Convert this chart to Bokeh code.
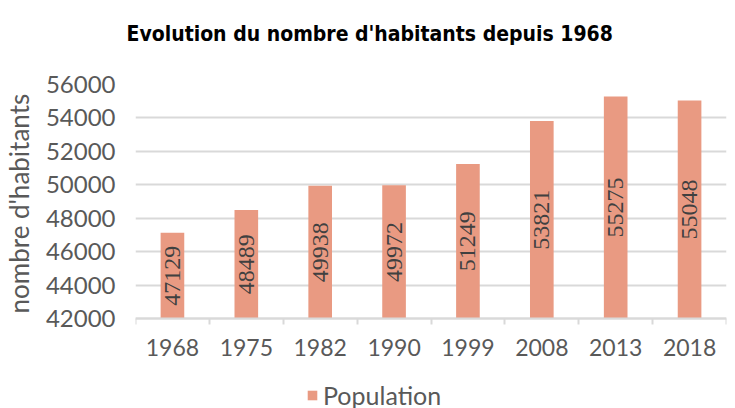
from bokeh.plotting import figure
from bokeh.models import (ColumnDataSource, FixedTicker, LabelSet, Legend, LegendItem, Range1d,
                          LinearAxis, Title)
from bokeh.embed import file_html
from bokeh.resources import INLINE
import math

years = ["1968", "1975", "1982", "1990", "1999", "2008", "2013", "2018"]
population = [47129, 48489, 49938, 49972, 51249, 53821, 55275, 55048]
y_ticks = [42000, 44000, 46000, 48000, 50000, 52000, 54000, 56000]

BASE = 42000
TOP = 56000
idx = list(range(len(years)))
src = ColumnDataSource(dict(
    x=idx, top=population, label=[str(v) for v in population],
    mid=[(BASE + v) / 2 for v in population],
))

FONT = "Lato"
GRAY = "#595959"
GRID = "#d9d9d9"
BAR = "#E99A82"

W, H = 735, 408
TOP_PX, AXIS_PX = 84, 318
units_per_px = (TOP - BASE) / (AXIS_PX - TOP_PX)
y_start = BASE - (H - AXIS_PX) * units_per_px

p = figure(width=W, height=H, output_backend="svg", toolbar_location=None,
           x_range=Range1d(-0.5, len(years) - 0.5), y_range=Range1d(y_start, TOP),
           x_axis_location=None,
           min_border_left=135, min_border_right=9, min_border_top=TOP_PX, min_border_bottom=0)

r = p.vbar(x="x", top="top", bottom=BASE, width=0.32, source=src,
           fill_color=BAR, line_color=None)

labels = LabelSet(x="x", y="mid", text="label", source=src, angle=math.pi / 2,
                  text_align="center", text_baseline="middle",
                  text_font=FONT, text_font_size="24px", text_color="#404040")
p.add_layout(labels)

# main title (outermost panel)
p.title.text = "Evolution du nombre d'habitants depuis 1968"
p.title.text_font = "DejaVu Sans Condensed"
p.title.text_font_style = "bold"
p.title.text_font_size = "21px"
p.title.align = "left"
p.title.offset = -9
p.title.standoff = 10
p.title.text_color = "#000000"

# empty spacer between the title and the frame
top_spacer = Title(text=" ", text_font_size="20px", standoff=10)
p.add_layout(top_spacer, "above")

# x axis at the 42000 baseline
xaxis = LinearAxis(fixed_location=BASE)
xaxis.ticker = FixedTicker(ticks=idx, minor_ticks=[i - 0.5 for i in range(len(years) + 1)])
xaxis.major_label_overrides = {i: y for i, y in enumerate(years)}
xaxis.major_tick_line_color = None
xaxis.major_tick_out = 0
xaxis.major_tick_in = 0
xaxis.minor_tick_line_color = GRID
xaxis.minor_tick_out = 6
xaxis.minor_tick_in = 0
xaxis.minor_tick_line_width = 2
xaxis.axis_line_color = GRID
xaxis.axis_line_width = 2
xaxis.major_label_text_font = FONT
xaxis.major_label_text_font_size = "23px"
xaxis.major_label_text_color = GRAY
xaxis.major_label_standoff = 14
p.add_layout(xaxis, "below")

# y axis
p.yaxis.ticker = FixedTicker(ticks=y_ticks)
p.yaxis.axis_line_color = None
p.yaxis.major_tick_line_color = None
p.yaxis.minor_tick_line_color = None
p.yaxis.major_tick_out = 0
p.yaxis.major_label_text_font = FONT
p.yaxis.major_label_text_font_size = "24px"
p.yaxis.major_label_text_color = GRAY
p.yaxis.major_label_standoff = 20

left_spacer = Title(text=" ", text_font_size="5px", standoff=0)
p.add_layout(left_spacer, "left")
ylabel = Title(text="nombre d'habitants", align="left", offset=95,
               text_font=FONT, text_font_size="26px", text_font_style="normal",
               text_color=GRAY, standoff=0)
p.add_layout(ylabel, "left")

p.xgrid.grid_line_color = None
p.ygrid.grid_line_color = GRID
p.ygrid.grid_line_width = 2
p.outline_line_color = None

legend = Legend(items=[LegendItem(label="Population", renderers=[r])],
                orientation="horizontal", location=(171, -2),
                label_text_font=FONT, label_text_font_size="25px", label_text_color=GRAY,
                glyph_width=12, glyph_height=12, label_standoff=5,
                padding=0, margin=0, border_line_color=None, background_fill_alpha=0,
                spacing=0)
p.add_layout(legend, "center")

open("out.html", "w").write(file_html(p, INLINE))
